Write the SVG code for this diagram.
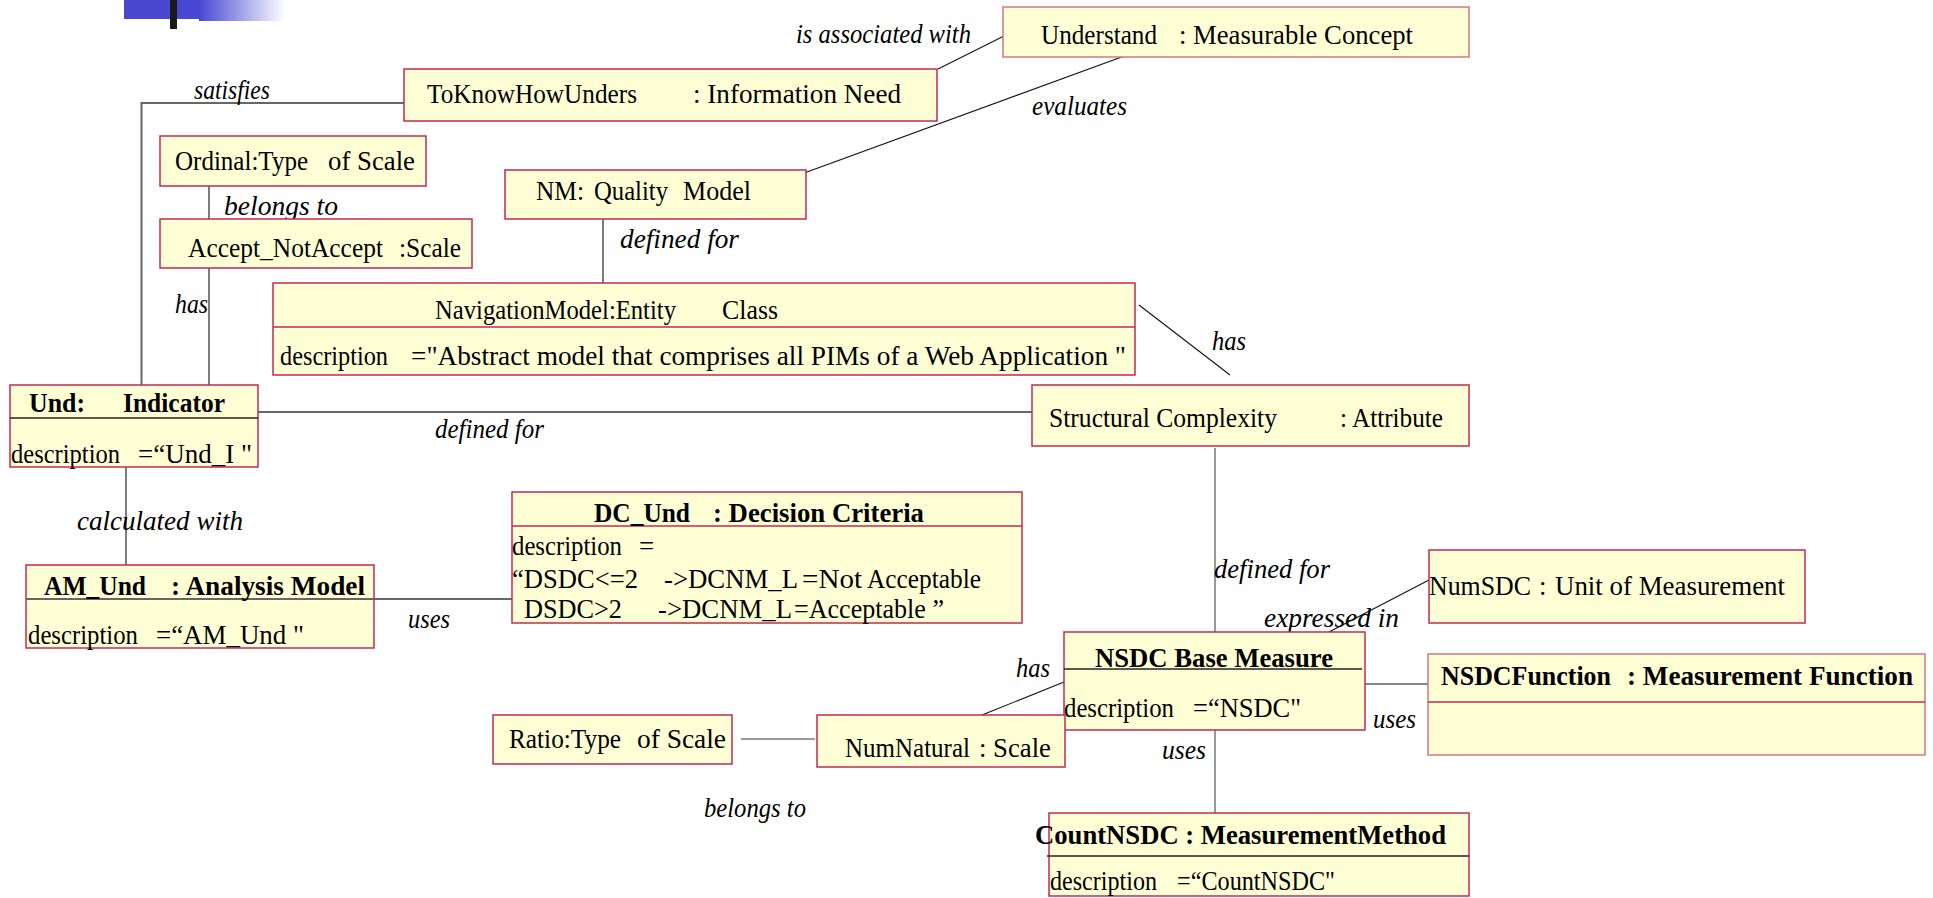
<svg xmlns="http://www.w3.org/2000/svg" width="1933" height="898" viewBox="0 0 1933 898">
  <style>
    .box { fill: #ffffd6; stroke: #c22a55; stroke-width: 1.5; }
    .box2 { fill: #ffffd6; stroke: #d07a84; stroke-width: 1.5; }
    .div { stroke: #c22a55; stroke-width: 1.5; }
    .divk { stroke: #222; stroke-width: 1.3; }
    .t { font-family: "Liberation Serif", "Times New Roman", serif; font-size: 27px; fill: #000; }
    .b { font-weight: bold; }
    .lbl { font-family: "Liberation Serif", "Times New Roman", serif; font-size: 27px; font-style: italic; fill: #000; }
    .lk { stroke: #111; stroke-width: 1.1; fill: none; }
    .lg { stroke: #666; stroke-width: 2; fill: none; }
    .lg1 { stroke: #777; stroke-width: 1.5; fill: none; }
  </style>
  <defs>
    <linearGradient id="fade" x1="0" y1="0" x2="1" y2="0">
      <stop offset="0" stop-color="#4848d2"/>
      <stop offset="1" stop-color="#4848d2" stop-opacity="0"/>
    </linearGradient>
  </defs>

  <!-- corner banner -->
  <g id="banner">
    <rect x="124" y="0" width="76" height="19" fill="#4848d2"/>
    <rect x="199" y="0" width="86" height="21" fill="url(#fade)"/>
    <rect x="170" y="0" width="7" height="29" fill="#1a1a1a"/>
  </g>

  <!-- associations -->
  <g id="connectors">
    <polyline class="lg" points="404,103 141.5,103 141.5,385"/>
    <line class="lk" x1="938" y1="69" x2="1006" y2="35"/>
    <line class="lk" x1="1138" y1="51" x2="796" y2="176"/>
    <line class="lk" x1="209" y1="186" x2="209" y2="219"/>
    <line class="lk" x1="209" y1="268" x2="209" y2="385"/>
    <line class="lk" x1="603" y1="219" x2="603" y2="283"/>
    <line class="lk" x1="1139" y1="305" x2="1230" y2="375"/>
    <line class="lg" x1="255" y1="412" x2="1032" y2="412"/>
    <line class="lk" x1="126" y1="467" x2="126" y2="565"/>
    <line class="lg" x1="374" y1="599" x2="512" y2="599"/>
    <line class="lg1" x1="1215" y1="448" x2="1215" y2="632"/>
    <line class="lk" x1="1329" y1="632" x2="1429" y2="580"/>
    <line class="lk" x1="1365" y1="684" x2="1428" y2="684"/>
    <line class="lk" x1="1064" y1="682" x2="982" y2="715"/>
    <line class="lg1" x1="741" y1="739" x2="815" y2="739"/>
    <line class="lg1" x1="1215" y1="730" x2="1215" y2="813"/>

    <text class="lbl" x="194" y="99" textLength="76" lengthAdjust="spacingAndGlyphs">satisfies</text>
    <text class="lbl" x="796" y="43" textLength="175" lengthAdjust="spacingAndGlyphs">is associated with</text>
    <text class="lbl" x="1032" y="115" textLength="95" lengthAdjust="spacingAndGlyphs">evaluates</text>
    <text class="lbl" x="224" y="215" textLength="114" lengthAdjust="spacingAndGlyphs">belongs  to</text>
    <text class="lbl" x="620" y="248" textLength="119" lengthAdjust="spacingAndGlyphs">defined  for</text>
    <text class="lbl" x="175" y="313" textLength="33" lengthAdjust="spacingAndGlyphs">has</text>
    <text class="lbl" x="1212" y="350" textLength="34" lengthAdjust="spacingAndGlyphs">has</text>
    <text class="lbl" x="435" y="438" textLength="109" lengthAdjust="spacingAndGlyphs">defined for</text>
    <text class="lbl" x="77" y="530" textLength="166" lengthAdjust="spacingAndGlyphs">calculated  with</text>
    <text class="lbl" x="408" y="628" textLength="42" lengthAdjust="spacingAndGlyphs">uses</text>
    <text class="lbl" x="1214" y="578" textLength="116" lengthAdjust="spacingAndGlyphs">defined for</text>
    <text class="lbl" x="1264" y="627" textLength="135" lengthAdjust="spacingAndGlyphs">expressed  in</text>
    <text class="lbl" x="1016" y="677" textLength="34" lengthAdjust="spacingAndGlyphs">has</text>
    <text class="lbl" x="1373" y="728" textLength="43" lengthAdjust="spacingAndGlyphs">uses</text>
    <text class="lbl" x="1162" y="759" textLength="44" lengthAdjust="spacingAndGlyphs">uses</text>
    <text class="lbl" x="704" y="817" textLength="102" lengthAdjust="spacingAndGlyphs">belongs to</text>
  </g>

  <g id="info-need">
    <rect class="box" x="404" y="69" width="533" height="52"/>
    <text class="t" y="103"><tspan x="427" textLength="210" lengthAdjust="spacingAndGlyphs">ToKnowHowUnders</tspan><tspan x="693" textLength="208" lengthAdjust="spacingAndGlyphs">: Information  Need</tspan></text>
  </g>

  <g id="measurable-concept">
    <rect class="box2" x="1003" y="7" width="466" height="50"/>
    <text class="t" y="44"><tspan x="1041" textLength="116" lengthAdjust="spacingAndGlyphs">Understand</tspan><tspan x="1179" textLength="234" lengthAdjust="spacingAndGlyphs">: Measurable  Concept</tspan></text>
  </g>

  <g id="ordinal-type">
    <rect class="box" x="160" y="136" width="266" height="50"/>
    <text class="t" y="170"><tspan x="175" textLength="133" lengthAdjust="spacingAndGlyphs">Ordinal:Type</tspan><tspan x="328" textLength="87" lengthAdjust="spacingAndGlyphs">of Scale</tspan></text>
  </g>

  <g id="accept-scale">
    <rect class="box" x="160" y="219" width="312" height="49"/>
    <text class="t" y="257"><tspan x="188" textLength="195" lengthAdjust="spacingAndGlyphs">Accept_NotAccept</tspan><tspan x="399" textLength="62" lengthAdjust="spacingAndGlyphs">:Scale</tspan></text>
  </g>

  <g id="quality-model">
    <rect class="box" x="505" y="170" width="301" height="49"/>
    <text class="t" y="200"><tspan x="536" textLength="48" lengthAdjust="spacingAndGlyphs">NM:</tspan><tspan x="594" textLength="74" lengthAdjust="spacingAndGlyphs">Quality</tspan><tspan x="683" textLength="68" lengthAdjust="spacingAndGlyphs">Model</tspan></text>
  </g>

  <g id="entity-class">
    <rect class="box" x="273" y="283" width="862" height="92"/>
    <line class="div" x1="273" y1="327" x2="1135" y2="327"/>
    <text class="t" y="319"><tspan x="435" textLength="241" lengthAdjust="spacingAndGlyphs">NavigationModel:Entity</tspan><tspan x="722" textLength="56" lengthAdjust="spacingAndGlyphs">Class</tspan></text>
    <text class="t" y="365"><tspan x="280" textLength="108" lengthAdjust="spacingAndGlyphs">description</tspan><tspan x="411" textLength="715" lengthAdjust="spacingAndGlyphs">="Abstract  model  that  comprises  all  PIMs of a Web  Application  "</tspan></text>
  </g>

  <g id="indicator">
    <rect class="box" x="10" y="385" width="248" height="82"/>
    <line class="divk" x1="10" y1="418" x2="258" y2="418"/>
    <text class="t b" y="412"><tspan x="29" textLength="56" lengthAdjust="spacingAndGlyphs">Und:</tspan><tspan x="123" textLength="102" lengthAdjust="spacingAndGlyphs">Indicator</tspan></text>
    <text class="t" y="463"><tspan x="11" textLength="109" lengthAdjust="spacingAndGlyphs">description</tspan><tspan x="138" textLength="114" lengthAdjust="spacingAndGlyphs">=“Und_I  "</tspan></text>
  </g>

  <g id="attribute">
    <rect class="box" x="1032" y="385" width="437" height="61"/>
    <text class="t" y="427"><tspan x="1049" textLength="228" lengthAdjust="spacingAndGlyphs">Structural  Complexity</tspan><tspan x="1340" textLength="103" lengthAdjust="spacingAndGlyphs">: Attribute</tspan></text>
  </g>

  <g id="analysis-model">
    <rect class="box" x="26" y="565" width="348" height="83"/>
    <line class="lg" x1="26" y1="599" x2="374" y2="599"/>
    <text class="t b" y="595"><tspan x="44" textLength="102" lengthAdjust="spacingAndGlyphs">AM_Und</tspan><tspan x="171" textLength="194" lengthAdjust="spacingAndGlyphs">: Analysis  Model</tspan></text>
    <text class="t" y="644"><tspan x="28" textLength="110" lengthAdjust="spacingAndGlyphs">description</tspan><tspan x="156" textLength="148" lengthAdjust="spacingAndGlyphs">=“AM_Und  "</tspan></text>
  </g>

  <g id="decision-criteria">
    <rect class="box" x="512" y="492" width="510" height="131"/>
    <line class="div" x1="512" y1="526" x2="1022" y2="526"/>
    <text class="t b" y="522"><tspan x="594" textLength="96" lengthAdjust="spacingAndGlyphs">DC_Und</tspan><tspan x="713" textLength="211" lengthAdjust="spacingAndGlyphs">: Decision  Criteria</tspan></text>
    <text class="t" y="555"><tspan x="512" textLength="110" lengthAdjust="spacingAndGlyphs">description</tspan><tspan x="639">=</tspan></text>
    <text class="t" y="588"><tspan x="512" textLength="126" lengthAdjust="spacingAndGlyphs">“DSDC&lt;=2</tspan><tspan x="664" textLength="134" lengthAdjust="spacingAndGlyphs">-&gt;DCNM_L</tspan><tspan x="802" textLength="60" lengthAdjust="spacingAndGlyphs">=Not</tspan><tspan x="867" textLength="114" lengthAdjust="spacingAndGlyphs">Acceptable</tspan></text>
    <text class="t" y="618"><tspan x="524" textLength="98" lengthAdjust="spacingAndGlyphs">DSDC&gt;2</tspan><tspan x="658" textLength="134" lengthAdjust="spacingAndGlyphs">-&gt;DCNM_L</tspan><tspan x="794" textLength="150" lengthAdjust="spacingAndGlyphs">=Acceptable ”</tspan></text>
  </g>

  <g id="unit">
    <rect class="box" x="1429" y="550" width="376" height="73"/>
    <text class="t" y="595"><tspan x="1429" textLength="102" lengthAdjust="spacingAndGlyphs">NumSDC</tspan><tspan x="1539">:</tspan><tspan x="1555" textLength="230" lengthAdjust="spacingAndGlyphs">Unit  of  Measurement</tspan></text>
  </g>

  <g id="base-measure">
    <rect class="box" x="1064" y="632" width="301" height="98"/>
    <line class="divk" x1="1064" y1="669" x2="1362" y2="669"/>
    <text class="t b" x="1095" y="667" textLength="238" lengthAdjust="spacingAndGlyphs">NSDC Base Measure</text>
    <text class="t" y="717"><tspan x="1064" textLength="110" lengthAdjust="spacingAndGlyphs">description</tspan><tspan x="1193" textLength="108" lengthAdjust="spacingAndGlyphs">=“NSDC"</tspan></text>
  </g>

  <g id="measurement-function">
    <rect class="box2" x="1428" y="654" width="497" height="101"/>
    <line class="div" x1="1428" y1="702" x2="1925" y2="702" stroke="#d07a84"/>
    <text class="t b" y="685"><tspan x="1441" textLength="170" lengthAdjust="spacingAndGlyphs">NSDCFunction</tspan><tspan x="1627" textLength="286" lengthAdjust="spacingAndGlyphs">: Measurement  Function</tspan></text>
  </g>

  <g id="ratio-type">
    <rect class="box" x="493" y="715" width="239" height="49"/>
    <text class="t" y="748"><tspan x="509" textLength="112" lengthAdjust="spacingAndGlyphs">Ratio:Type</tspan><tspan x="637" textLength="89" lengthAdjust="spacingAndGlyphs">of  Scale</tspan></text>
  </g>

  <g id="natural-scale">
    <rect class="box" x="817" y="715" width="248" height="52"/>
    <text class="t" y="757"><tspan x="845" textLength="125" lengthAdjust="spacingAndGlyphs">NumNatural</tspan><tspan x="979" textLength="72" lengthAdjust="spacingAndGlyphs">: Scale</tspan></text>
  </g>

  <g id="measurement-method">
    <rect class="box" x="1049" y="813" width="420" height="83"/>
    <line class="divk" x1="1047" y1="856" x2="1469" y2="856" stroke="#444"/>
    <text class="t b" x="1035" y="844" textLength="411" lengthAdjust="spacingAndGlyphs">CountNSDC : MeasurementMethod</text>
    <text class="t" y="890"><tspan x="1050" textLength="107" lengthAdjust="spacingAndGlyphs">description</tspan><tspan x="1177" textLength="158" lengthAdjust="spacingAndGlyphs">=“CountNSDC"</tspan></text>
  </g>
</svg>
